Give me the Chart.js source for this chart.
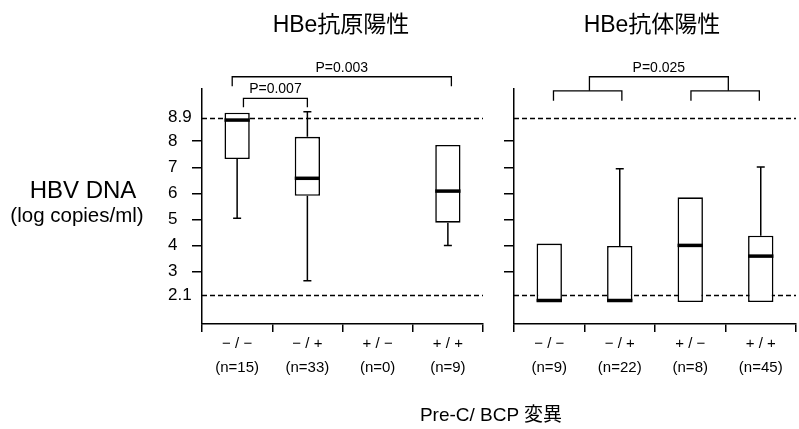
<!DOCTYPE html>
<html>
<head>
<meta charset="utf-8">
<script src="https://cdn.jsdelivr.net/npm/chart.js@4.4.0/dist/chart.umd.min.js"></script>
<style>
  body { margin: 0; background: #fff; width: 799px; height: 429px; position: relative; overflow: hidden;
         font-family: "Liberation Sans", Arial, "Noto Sans CJK JP", sans-serif; color: #000; }
  .wrap { position: absolute; top: 0; height: 429px; }
  #wl { left: 0; width: 490px; }
  #wr { left: 490px; width: 309px; }
  .t { position: absolute; white-space: nowrap; transform: translate(-50%, -50%);
       font-family: "Liberation Sans", Arial, "Noto Sans CJK JP", sans-serif; }
</style>
</head>
<body>
<div class="wrap" id="wl"><canvas id="left" width="490" height="429"></canvas></div>
<div class="wrap" id="wr"><canvas id="right" width="309" height="429"></canvas></div>

<div class="t" style="left:341px;top:22px;font-size:23px">HBe抗原陽性</div>
<div class="t" style="left:652px;top:22px;font-size:23px">HBe抗体陽性</div>
<div class="t" style="left:83px;top:190px;font-size:24px">HBV DNA</div>
<div class="t" style="left:77px;top:215px;font-size:20.5px">(log copies/ml)</div>
<div class="t" style="left:491px;top:412px;font-size:19px">Pre-C/ BCP 変異</div>

<script>
// カテゴリ (Pre-C / BCP)
const categories = ['\u2212 / \u2212', '\u2212 / +', '+ / \u2212', '+ / +'];

// HBe抗原陽性
const agCounts = ['(n=15)', '(n=33)', '(n=0)', '(n=9)'];
const agLow    = [5.05, 2.66, null, 4.01];
const agQ1     = [7.32, 5.91, null, 4.88];
const agMedian = [8.81, 6.58, null, 6.09];
const agQ3     = [9.09, 8.17, null, 7.86];
const agHigh   = [9.09, 9.13, null, 7.86];

// HBe抗体陽性
const abCounts = ['(n=9)', '(n=22)', '(n=8)', '(n=45)'];
const abLow    = [1.85, 1.85, 1.84, 1.84];
const abQ1     = [1.85, 1.85, 1.84, 1.84];
const abMedian = [1.90, 1.90, 4.01, 3.60];
const abQ3     = [4.08, 3.99, 5.85, 4.38];
const abHigh   = [4.08, 6.95, 5.85, 7.01];

// 軸
const agTicks = [2.1, 3, 4, 5, 6, 7, 8, 8.9];
const abTicks = [3, 4, 5, 6, 7, 8];
const refLines = [2.1, 8.9];

// 有意差の括弧: [from, to, top, legEnd, label]
const agBrackets = [
  [-0.07, 3.05, 10.47, 10.11, 'P=0.003'],
  [0.09, 1.0, 9.64, 9.30, 'P=0.007']
];
const abBrackets = [
  [0.57, 2.54, 10.47, 9.93, 'P=0.025'],
  [0.06, 1.03, 9.93, 9.55, ''],
  [2.01, 2.98, 9.93, 9.55, '']
];

const boxPlugin = {
  id: 'boxes',
  beforeDatasetsDraw(chart) {
    const { ctx, chartArea: a, scales: { y } } = chart;
    ctx.save();
    ctx.strokeStyle = '#000';
    ctx.lineWidth = 1.5;
    ctx.setLineDash([5, 3]);
    refLines.forEach(v => {
      const py = Math.round(y.getPixelForValue(v)) + 0.5;
      ctx.beginPath();
      ctx.moveTo(a.left, py);
      ctx.lineTo(a.right, py);
      ctx.stroke();
    });
    ctx.restore();
  },
  afterDatasetsDraw(chart, args, opts) {
    const { ctx, scales: { x, y } } = chart;
    const meta = chart.getDatasetMeta(0);
    ctx.save();
    ctx.strokeStyle = '#000';
    opts.median.forEach((m, i) => {
      if (m === null) return;
      const cx = x.getPixelForValue(i);
      const w = meta.data[i].width;
      ctx.lineWidth = 1.5;
      ctx.beginPath();
      if (opts.high[i] > opts.q3[i]) {
        ctx.moveTo(cx, y.getPixelForValue(opts.q3[i]));
        ctx.lineTo(cx, y.getPixelForValue(opts.high[i]));
        ctx.moveTo(cx - 4, y.getPixelForValue(opts.high[i]));
        ctx.lineTo(cx + 4, y.getPixelForValue(opts.high[i]));
      }
      if (opts.low[i] < opts.q1[i]) {
        ctx.moveTo(cx, y.getPixelForValue(opts.q1[i]));
        ctx.lineTo(cx, y.getPixelForValue(opts.low[i]));
        ctx.moveTo(cx - 4, y.getPixelForValue(opts.low[i]));
        ctx.lineTo(cx + 4, y.getPixelForValue(opts.low[i]));
      }
      ctx.stroke();
      ctx.lineWidth = 3.5;
      ctx.beginPath();
      const my = y.getPixelForValue(m);
      ctx.moveTo(cx - w / 2, my);
      ctx.lineTo(cx + w / 2, my);
      ctx.stroke();
    });
    ctx.restore();
  },
  afterDraw(chart, args, opts) {
    const { ctx, scales: { x, y } } = chart;
    ctx.save();
    ctx.strokeStyle = '#000';
    ctx.fillStyle = '#000';
    ctx.lineWidth = 1.3;
    ctx.font = '14px "Liberation Sans", Arial, sans-serif';
    ctx.textAlign = 'center';
    ctx.textBaseline = 'bottom';
    opts.brackets.forEach(([f, t, top, leg, label]) => {
      const x1 = x.getPixelForValue(f), x2 = x.getPixelForValue(t);
      const yt = y.getPixelForValue(top), yl = y.getPixelForValue(leg);
      ctx.beginPath();
      ctx.moveTo(x1, yl);
      ctx.lineTo(x1, yt);
      ctx.lineTo(x2, yt);
      ctx.lineTo(x2, yl);
      ctx.stroke();
      if (label) ctx.fillText(label, (x1 + x2) / 2, yt - 2);
    });
    ctx.restore();
  }
};

function makePanel(id, counts, low, q1, median, q3, high, yTicks, showLabels, padLeft, yWidth, padRight, brackets) {
  return new Chart(document.getElementById(id), {
    type: 'bar',
    data: {
      labels: categories,
      datasets: [{
        data: q1.map((v, i) => v === null ? null : [v, q3[i]]),
        backgroundColor: '#fff',
        borderColor: '#000',
        borderWidth: 1.6,
        borderSkipped: false,
        barPercentage: 0.36,
        categoryPercentage: 1
      }]
    },
    options: {
      responsive: false,
      animation: false,
      events: [],
      layout: { padding: { left: padLeft, right: padRight, top: 89, bottom: 0 } },
      plugins: {
        legend: { display: false },
        tooltip: { enabled: false },
        boxes: { low, q1, median, q3, high, brackets }
      },
      scales: {
        x: {
          offset: true,
          grid: { offset: true, drawOnChartArea: false, tickLength: 8, color: '#000', lineWidth: 1.5 },
          border: { display: true, color: '#000', width: 1.5 },
          ticks: {
            color: '#000', padding: 0, maxRotation: 0, autoSkip: false,
            font: { family: '"Liberation Sans", Arial, sans-serif', size: 15, lineHeight: 1.6 },
            callback: (v, i) => [categories[i], counts[i]]
          },
          afterFit: s => { s.height = 105; }
        },
        y: {
          min: 1, max: 10,
          afterBuildTicks: s => { s.ticks = yTicks.map(v => ({ value: v })); },
          grid: {
            drawOnChartArea: false, tickLength: 10, lineWidth: 1.5, color: '#000',
            tickColor: c => (c.tick && (c.tick.value === 2.1 || c.tick.value === 8.9)) ? 'rgba(0,0,0,0)' : '#000'
          },
          border: { display: true, color: '#000', width: 1.5 },
          ticks: {
            crossAlign: 'far', color: '#000', padding: 2,
            font: { family: '"Liberation Sans", Arial, sans-serif', size: 17 },
            callback: v => showLabels ? String(v) : ''
          },
          afterFit: s => { s.width = yWidth; }
        }
      }
    },
    plugins: [boxPlugin]
  });
}

makePanel('left', agCounts, agLow, agQ1, agMedian, agQ3, agHigh, agTicks, true, 168, 34, 7, agBrackets);
makePanel('right', abCounts, abLow, abQ1, abMedian, abQ3, abHigh, abTicks, false, 0, 24, 3, abBrackets);
</script>
</body>
</html>
